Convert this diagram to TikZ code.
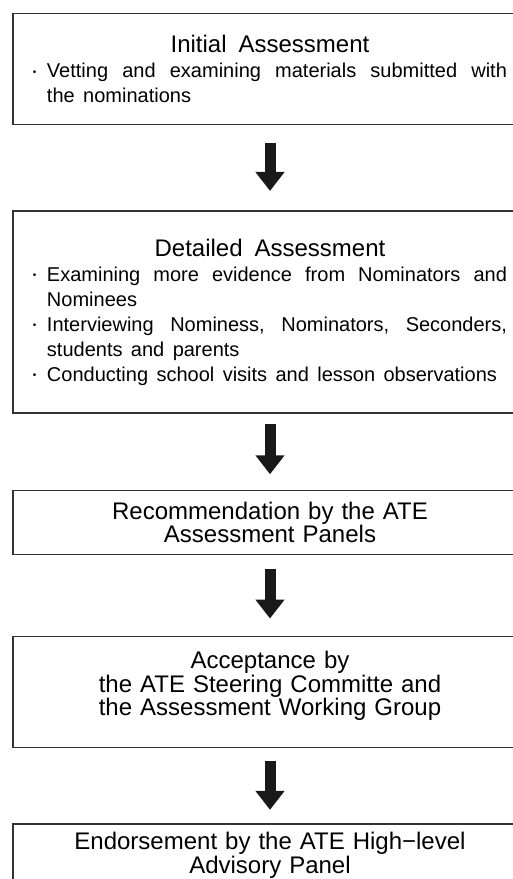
\documentclass[tikz,border=0pt]{standalone}
\usepackage{fontspec}
\setmainfont{Liberation Sans}
\usetikzlibrary{matrix,arrows.meta}
\setlength{\parindent}{0pt}

\newcommand{\bul}{\makebox[14pt][l]{\raisebox{2.5pt}{\fontsize{10}{10}\selectfont\textbullet}}}
\newcommand{\ind}{\hspace*{14pt}}
\newcommand{\stagehead}[1]{\centerline{\fontsize{24}{25}\selectfont\spaceskip=0.5em #1}}

\tikzset{
  stage/.style={draw=black!80, line width=1.3pt, minimum width=514pt,
    inner xsep=20pt, inner ysep=0pt, text width=474pt, align=justify,
    font={\fontsize{20}{25}\selectfont\frenchspacing\spaceskip=0.42em plus 1em minus 0.05em}},
  centred/.style={align=center,
    font={\fontsize{24}{23.5}\selectfont\frenchspacing\spaceskip=0.5em plus 0.3em minus 0.1em}},
  flow/.style={line width=11pt, black!90, -{Triangle[length=19pt,width=28pt]}}
}

\begin{document}
\begin{tikzpicture}[x=1pt,y=-1pt]
\useasboundingbox (0,0) rectangle (513,879);
 \matrix (m) [matrix of nodes, nodes={stage}, row sep=0pt, inner sep=0pt, outer sep=0pt, anchor=north] at (270,13)
  {
    |[minimum height=111pt]| \stagehead{Initial Assessment}\par
      \bul Vetting and examining materials submitted with\linebreak\ind the nominations \\[85pt]
    |[minimum height=202pt]| \stagehead{Detailed Assessment}\par
      \bul Examining more evidence from Nominators and\linebreak\ind Nominees\par
      \bul Interviewing Nominess, Nominators, Seconders,\linebreak\ind students and parents\par
      \bul Conducting school visits and lesson observations \\[76pt]
    |[centred, minimum height=64pt]| Recommendation by the ATE\par Assessment Panels \\[81pt]
    |[centred, minimum height=111pt, text depth=64pt]| Acceptance by\par the ATE Steering Committe and\par the Assessment Working Group \\[75pt]
    |[centred, minimum height=63pt]| Endorsement by the ATE High−level\par Advisory Panel \\
  };
  \path[flow]
  (m-1-1) edge [shorten <=18pt, shorten >=20pt] (m-2-1)
  (m-2-1) edge [shorten <=11pt, shorten >=16pt] (m-3-1)
  (m-3-1) edge [shorten <=15pt, shorten >=18pt] (m-4-1)
  (m-4-1) edge [shorten <=13pt, shorten >=14pt] (m-5-1)
  ;
\end{tikzpicture}
\end{document}
